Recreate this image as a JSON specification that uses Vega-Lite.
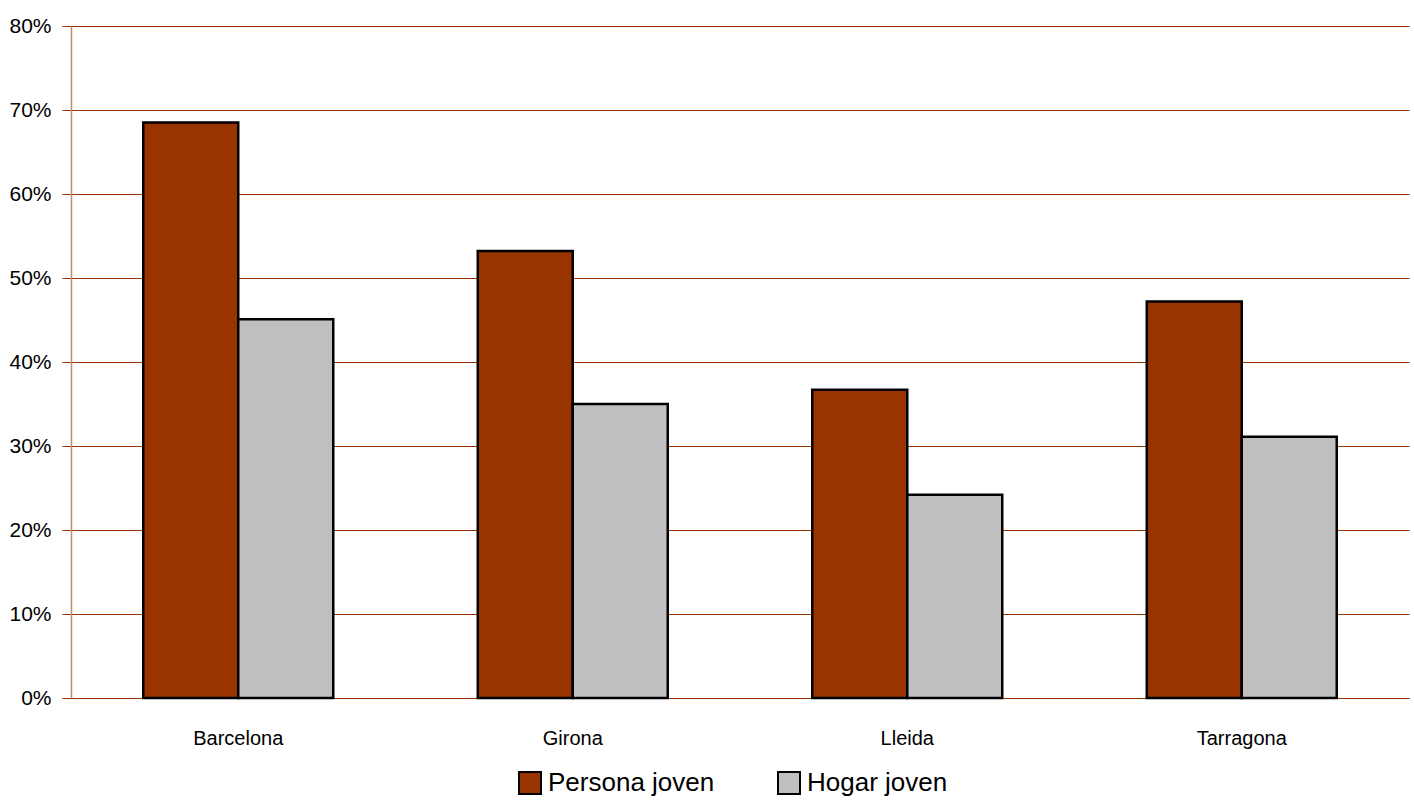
{
  "$schema": "https://vega.github.io/schema/vega-lite/v6.json",
  "autosize": "none",
  "width": 1338,
  "height": 672,
  "padding": {"left": 71, "top": 26, "right": 5, "bottom": 103},
  "background": "white",
  "config": {"view": {"stroke": null}, "font": "Liberation Sans"},
  "data": {"values": [
    {"provincia": "Barcelona", "serie": "Persona joven", "valor": 0.685},
    {"provincia": "Barcelona", "serie": "Hogar joven", "valor": 0.451},
    {"provincia": "Girona", "serie": "Persona joven", "valor": 0.532},
    {"provincia": "Girona", "serie": "Hogar joven", "valor": 0.350},
    {"provincia": "Lleida", "serie": "Persona joven", "valor": 0.367},
    {"provincia": "Lleida", "serie": "Hogar joven", "valor": 0.242},
    {"provincia": "Tarragona", "serie": "Persona joven", "valor": 0.472},
    {"provincia": "Tarragona", "serie": "Hogar joven", "valor": 0.311}
  ]},
  "mark": {"type": "bar", "stroke": "black", "strokeWidth": 2.5},
  "encoding": {
    "x": {
      "field": "provincia", "type": "nominal", "sort": null,
      "scale": {"paddingInner": 0.432, "paddingOuter": 0.216},
      "axis": {"title": null, "labelAngle": 0, "labelFontSize": 20, "labelColor": "black", "labelPadding": 30, "ticks": false, "domain": true, "domainColor": "#993300", "domainWidth": 1.2, "labelFont": "Liberation Sans"}
    },
    "xOffset": {"field": "serie", "type": "nominal", "sort": ["Persona joven", "Hogar joven"]},
    "y": {
      "field": "valor", "type": "quantitative",
      "scale": {"domain": [0, 0.8], "nice": false},
      "axis": {"title": null, "format": ".0%", "values": [0, 0.1, 0.2, 0.3, 0.4, 0.5, 0.6, 0.7, 0.8], "labelFontSize": 21, "labelColor": "black", "labelFont": "Liberation Sans", "tickSize": 9, "tickColor": "#993300", "labelPadding": 11, "grid": true, "gridColor": "#993300", "gridWidth": 1, "domainColor": "#c8866a", "domainWidth": 1.5}
    },
    "color": {
      "field": "serie", "type": "nominal", "sort": ["Persona joven", "Hogar joven"],
      "scale": {"domain": ["Persona joven", "Hogar joven"], "range": ["#993300", "#c0c0c0"]},
      "legend": {"title": null, "orient": "none", "legendX": 446, "legendY": 744, "direction": "horizontal", "symbolType": "square", "symbolSize": 484, "symbolStrokeColor": "black", "symbolStrokeWidth": 2, "symbolOpacity": 1, "labelFontSize": 26, "labelColor": "black", "labelFont": "Liberation Sans", "labelOffset": 5, "columnPadding": 59, "labelLimit": 400}
    }
  }
}
